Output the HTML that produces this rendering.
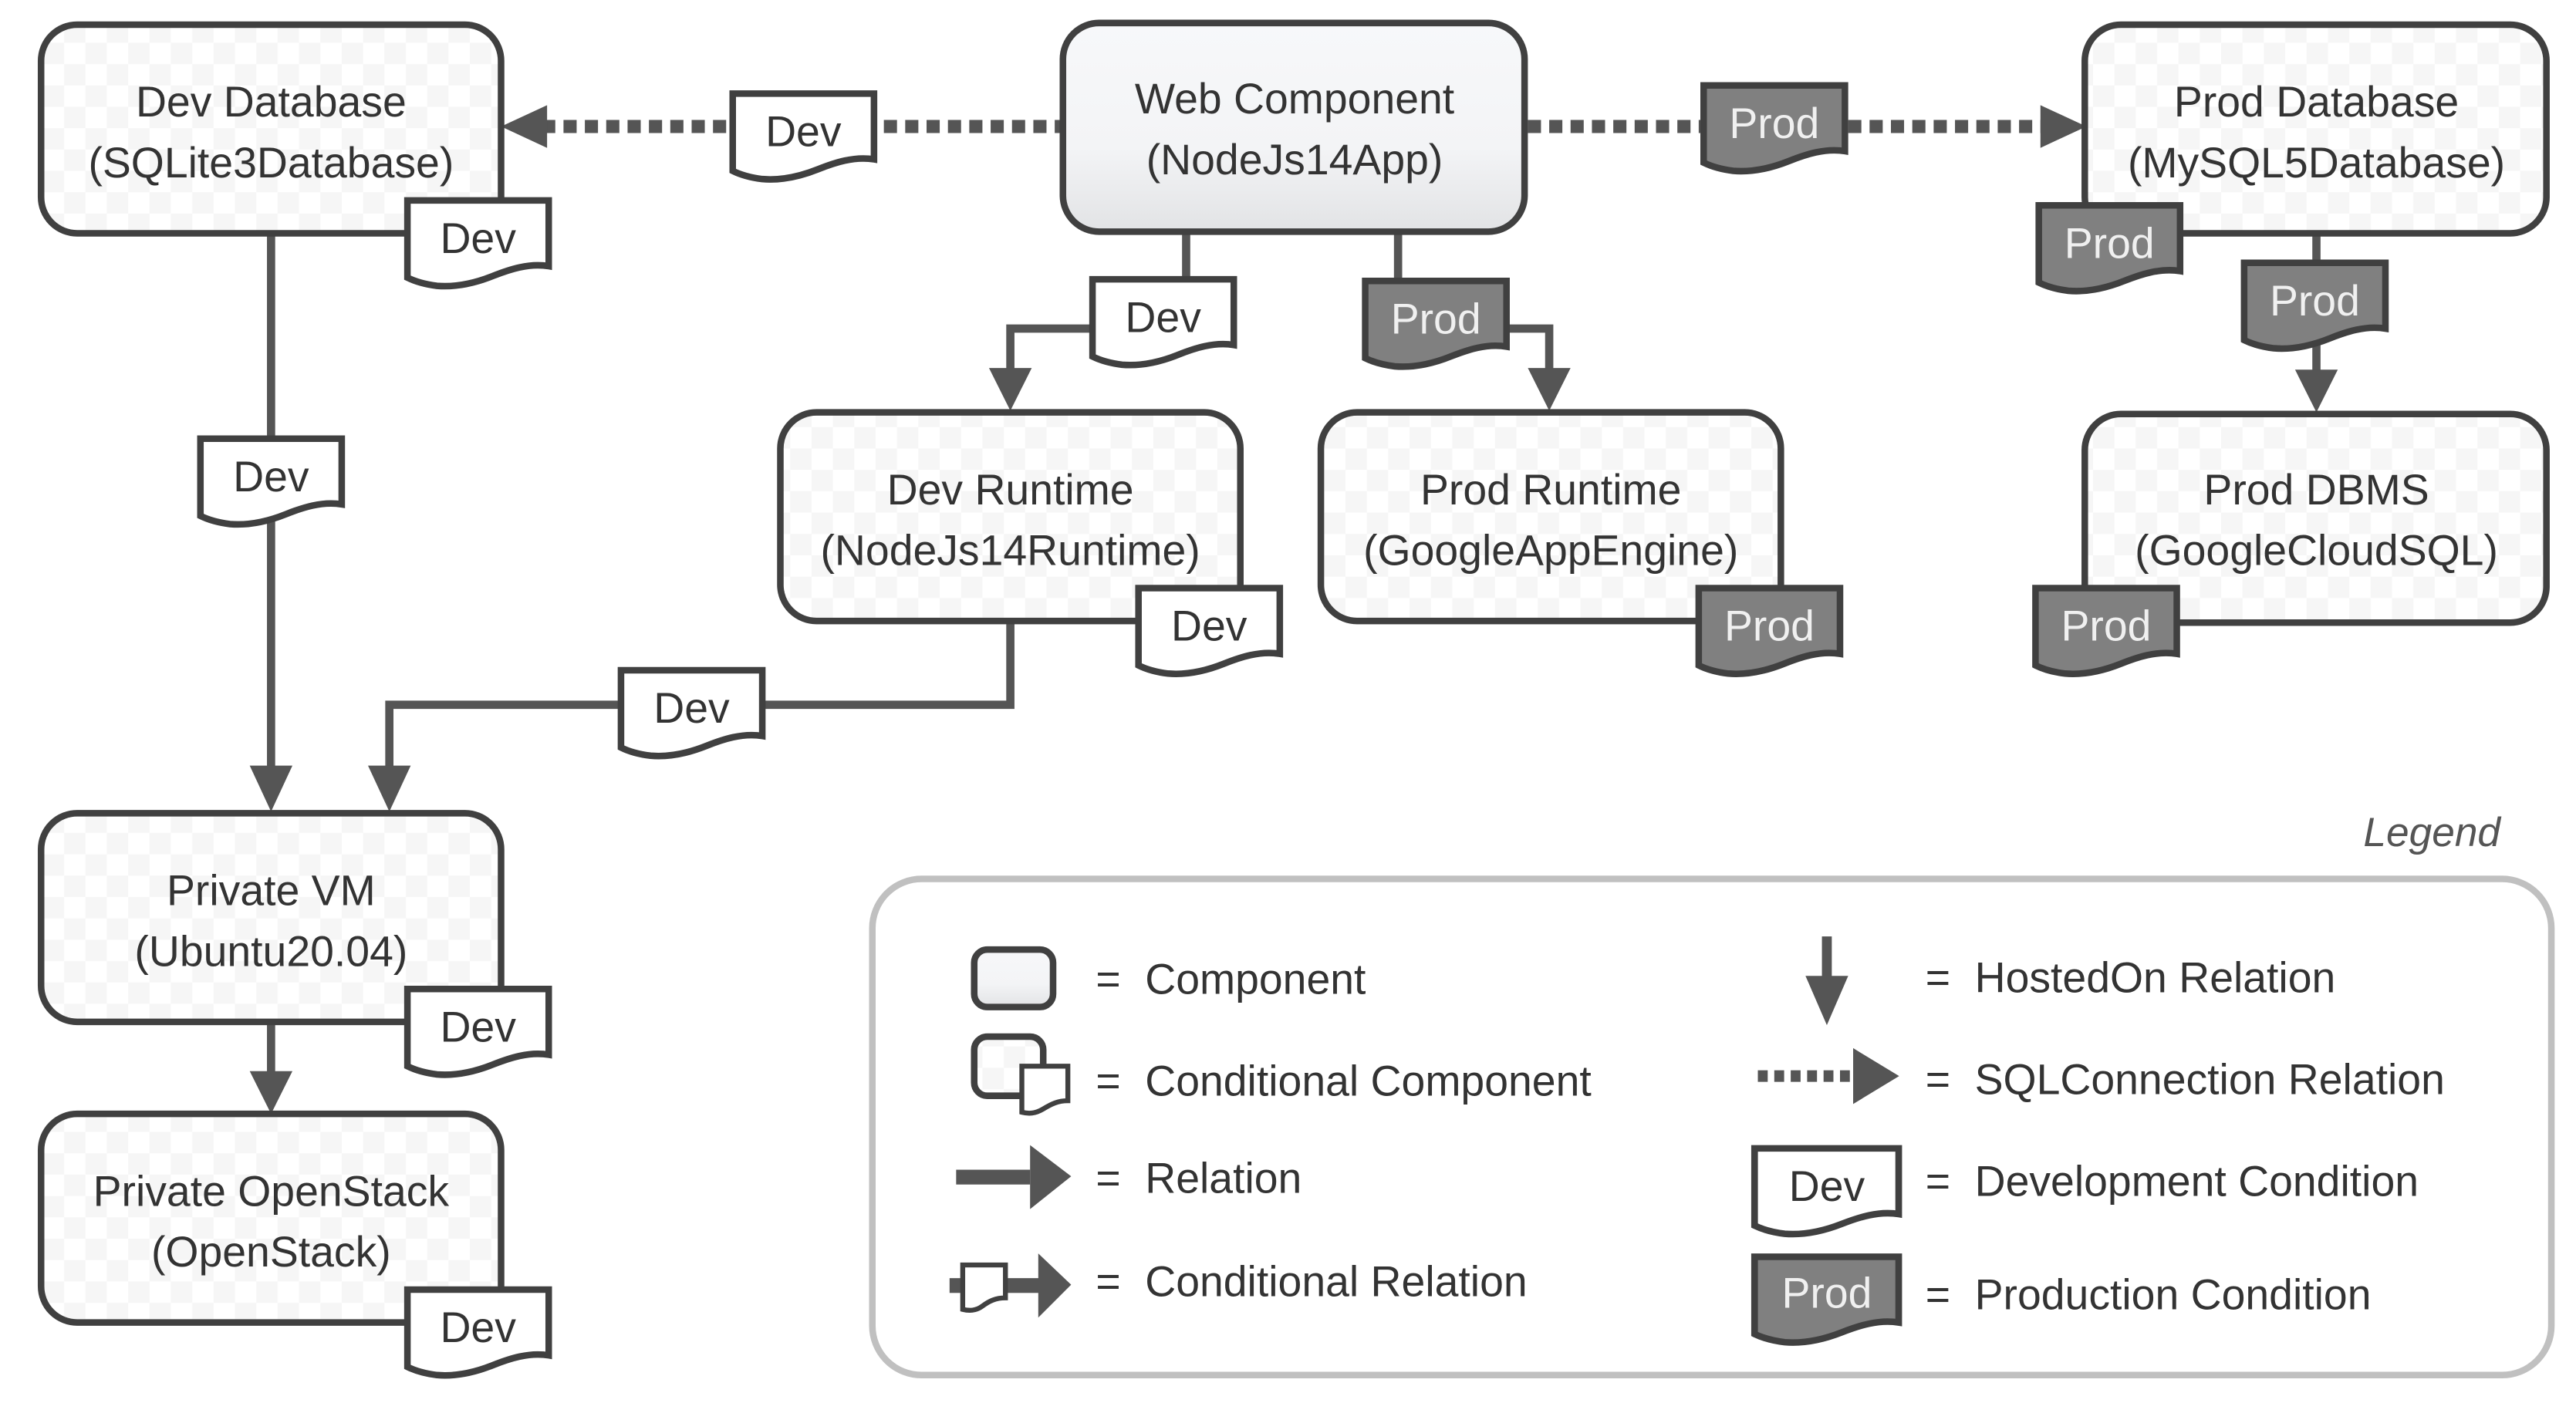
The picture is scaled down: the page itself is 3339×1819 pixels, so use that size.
<!DOCTYPE html>
<html><head><meta charset="utf-8"><style>html,body{margin:0;padding:0;background:#fff}svg{display:block}</style></head>
<body>
<svg width="3339" height="1819" viewBox="0 0 1568 854" preserveAspectRatio="none" xmlns="http://www.w3.org/2000/svg" font-family="'Liberation Sans', sans-serif">
<defs>
<pattern id="chk" width="26" height="26" patternUnits="userSpaceOnUse">
<rect width="26" height="26" fill="#ffffff"/><rect width="13" height="13" fill="#f6f6f6"/><rect x="13" y="13" width="13" height="13" fill="#f6f6f6"/>
</pattern>
<linearGradient id="grad" x1="0" y1="0" x2="0" y2="1"><stop offset="0" stop-color="#f7f8fa"/><stop offset="0.6" stop-color="#f3f4f6"/><stop offset="1" stop-color="#e2e3e5"/></linearGradient>
<path id="tag" d="M0,0 H86 V40 C74,38 62,42 52,46 C42,50 30,53 18,52 C10,51 4,49 0,47 Z"/>
</defs>
<g fill="none" stroke="#555" stroke-width="5">
<line x1="330" y1="77" x2="645" y2="77" stroke-width="8" stroke-dasharray="8 5"/>
<line x1="930" y1="77" x2="1245" y2="77" stroke-width="8" stroke-dasharray="8 5"/>
<polyline points="722,142 722,200 615,200 615,228"/>
<polyline points="851,142 851,200 943,200 943,228"/>
<line x1="1410" y1="142" x2="1410" y2="230"/>
<line x1="165" y1="142" x2="165" y2="470"/>
<polyline points="615,378 615,429 237,429 237,470"/>
<line x1="165" y1="622" x2="165" y2="656"/>
</g>
<g fill="#555">
<polygon points="305,77 333,64 333,90"/>
<polygon points="1270,77 1242,64 1242,90"/>
<polygon points="615,250 602,224 628,224"/>
<polygon points="943,250 930,224 956,224"/>
<polygon points="1410,251 1397,225 1423,225"/>
<polygon points="165,494 152,466 178,466"/>
<polygon points="237,494 224,466 250,466"/>
<polygon points="165,678 152,652 178,652"/>
</g>
<g stroke="#404040" stroke-width="4">
<rect x="25" y="15" width="280" height="127" rx="22" fill="url(#chk)"/>
<rect x="647" y="14" width="281" height="127" rx="22" fill="url(#grad)"/>
<rect x="1269" y="15" width="281" height="127" rx="22" fill="url(#chk)"/>
<rect x="475" y="251" width="280" height="127" rx="22" fill="url(#chk)"/>
<rect x="804" y="251" width="280" height="127" rx="22" fill="url(#chk)"/>
<rect x="1269" y="252" width="281" height="127" rx="22" fill="url(#chk)"/>
<rect x="25" y="495" width="280" height="127" rx="22" fill="url(#chk)"/>
<rect x="25" y="678" width="280" height="127" rx="22" fill="url(#chk)"/>
</g>
<g font-size="26" fill="#333" text-anchor="middle">
<text x="165" y="71">Dev Database</text><text x="165" y="108">(SQLite3Database)</text>
<text x="788" y="69">Web Component</text><text x="788" y="106">(NodeJs14App)</text>
<text x="1410" y="71">Prod Database</text><text x="1410" y="108">(MySQL5Database)</text>
<text x="615" y="307">Dev Runtime</text><text x="615" y="344">(NodeJs14Runtime)</text>
<text x="944" y="307">Prod Runtime</text><text x="944" y="344">(GoogleAppEngine)</text>
<text x="1410" y="307">Prod DBMS</text><text x="1410" y="344">(GoogleCloudSQL)</text>
<text x="165" y="551">Private VM</text><text x="165" y="588">(Ubuntu20.04)</text>
<text x="165" y="734">Private OpenStack</text><text x="165" y="771">(OpenStack)</text>
</g>
<g stroke="#404040" stroke-width="4">
<use href="#tag" x="248" y="122" fill="#fff"/>
<use href="#tag" x="446" y="57" fill="#fff"/>
<use href="#tag" x="665" y="170" fill="#fff"/>
<use href="#tag" x="693" y="358" fill="#fff"/>
<use href="#tag" x="122" y="267" fill="#fff"/>
<use href="#tag" x="378" y="408" fill="#fff"/>
<use href="#tag" x="248" y="602" fill="#fff"/>
<use href="#tag" x="248" y="785" fill="#fff"/>
<use href="#tag" x="1037" y="52" fill="#808080"/>
<use href="#tag" x="831" y="171" fill="#808080"/>
<use href="#tag" x="1034" y="358" fill="#808080"/>
<use href="#tag" x="1241" y="125" fill="#808080"/>
<use href="#tag" x="1366" y="160" fill="#808080"/>
<use href="#tag" x="1239" y="358" fill="#808080"/>
</g>
<g font-size="26" text-anchor="middle" fill="#333">
<text x="291" y="154">Dev</text>
<text x="489" y="89">Dev</text>
<text x="708" y="202">Dev</text>
<text x="736" y="390">Dev</text>
<text x="165" y="299">Dev</text>
<text x="421" y="440">Dev</text>
<text x="291" y="634">Dev</text>
<text x="291" y="817">Dev</text>
</g>
<g font-size="26" text-anchor="middle" fill="#f0f0f0">
<text x="1080" y="84">Prod</text>
<text x="874" y="203">Prod</text>
<text x="1077" y="390">Prod</text>
<text x="1284" y="157">Prod</text>
<text x="1409" y="192">Prod</text>
<text x="1282" y="390">Prod</text>
</g>
<text x="1522" y="515" font-size="25" font-style="italic" fill="#555" text-anchor="end">Legend</text>
<rect x="531" y="535" width="1022" height="302" rx="30" fill="#fff" stroke="#c0c0c0" stroke-width="4"/>
<rect x="593" y="578" width="48" height="35" rx="8" fill="url(#grad)" stroke="#404040" stroke-width="4"/>
<rect x="593" y="631" width="42" height="36" rx="8" fill="url(#chk)" stroke="#404040" stroke-width="4"/>
<path d="M622,649 H650 V670 C644,670 640,672 635,675 C630,678 626,678 622,677 Z" fill="#fff" stroke="#404040" stroke-width="3"/>
<rect x="582" y="712" width="45" height="9" fill="#555"/><polygon points="652,716 627,697 627,736" fill="#555"/>
<rect x="578" y="778" width="56" height="9" fill="#555"/><polygon points="652,782 632,763 632,802" fill="#555"/>
<path d="M586,770 H612 V790 C606,790 602,792 598,795 C594,798 590,798 586,797 Z" fill="#fff" stroke="#404040" stroke-width="3"/>
<rect x="1109" y="570" width="6" height="30" fill="#555"/><polygon points="1112,624 1099,594 1125,594" fill="#555"/>
<line x1="1070" y1="655" x2="1128" y2="655" stroke="#555" stroke-width="7" stroke-dasharray="6 4"/>
<polygon points="1156,655 1128,638 1128,672" fill="#555"/>
<g transform="translate(1068,699) scale(1.02,1)"><use href="#tag" fill="#fff" stroke="#404040" stroke-width="4"/></g>
<g transform="translate(1068,765) scale(1.02,1)"><use href="#tag" fill="#808080" stroke="#404040" stroke-width="4"/></g>
<text x="1112" y="731" font-size="26" text-anchor="middle" fill="#333">Dev</text>
<text x="1112" y="796" font-size="26" text-anchor="middle" fill="#f0f0f0">Prod</text>
<g font-size="26" fill="#333">
<text x="667" y="605">=</text><text x="697" y="605">Component</text>
<text x="667" y="667">=</text><text x="697" y="667">Conditional Component</text>
<text x="667" y="726">=</text><text x="697" y="726">Relation</text>
<text x="667" y="789">=</text><text x="697" y="789">Conditional Relation</text>
<text x="1172" y="604">=</text><text x="1202" y="604">HostedOn Relation</text>
<text x="1172" y="666">=</text><text x="1202" y="666">SQLConnection Relation</text>
<text x="1172" y="728">=</text><text x="1202" y="728">Development Condition</text>
<text x="1172" y="797">=</text><text x="1202" y="797">Production Condition</text>
</g>
</svg>
</body></html>
